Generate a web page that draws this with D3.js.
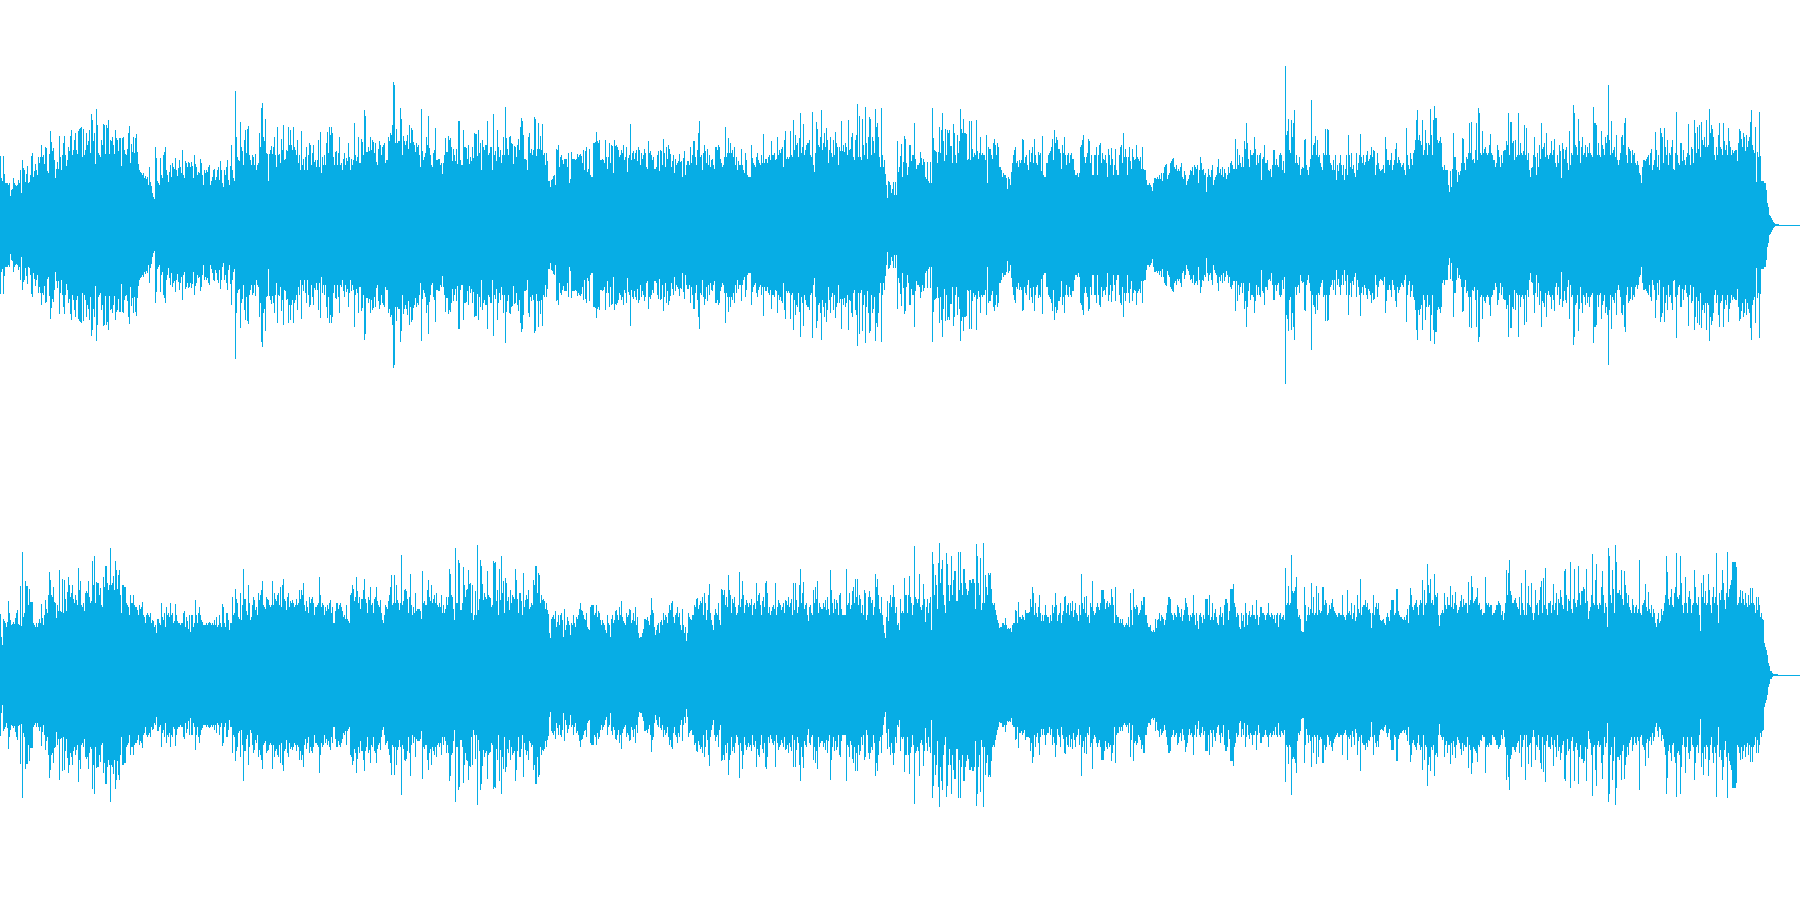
<!DOCTYPE html>
<html><head><meta charset="utf-8">
<script src="https://cdn.jsdelivr.net/npm/d3@7"></script>
<style>html,body{margin:0;padding:0;background:#fff;overflow:hidden}svg{display:block}</style>
</head><body><div id="chart"></div>
<script>
const channelNames = ["left", "right"];
const waveColor = "#07ade5";
const leftLevel = [
69,47,44,69,51,42,42,42,40,42,29,35,36,47,42,40,39,40,45,42,55,32,65,57,55,43,51,59,42,43,50,69,72,48,54,61,55,50,68,62,68,80,68,70,61,78,77,54,52,71,
94,83,74,77,65,47,56,63,56,89,68,55,70,82,89,70,59,65,78,74,89,95,70,75,85,92,75,71,94,96,97,98,68,96,70,75,92,80,84,95,72,111,105,84,92,61,116,100,72,70,
68,85,80,101,100,71,100,97,105,71,85,84,88,80,71,95,87,85,74,87,87,59,87,88,75,71,70,76,92,99,62,81,73,88,72,87,91,73,61,55,53,52,50,52,47,49,46,48,40,58,
43,39,32,28,26,78,67,44,42,40,67,50,47,70,73,78,55,50,43,53,60,48,62,58,56,67,55,49,57,65,58,52,75,50,47,64,62,58,63,62,58,63,59,47,70,61,58,50,53,52,
66,62,50,40,55,52,55,53,58,60,40,44,48,55,56,45,48,55,58,45,64,55,42,38,55,50,58,65,45,40,59,80,55,47,44,134,88,68,65,64,103,78,74,60,85,95,72,96,99,70,
65,60,70,68,60,71,55,60,62,92,78,117,122,88,84,106,72,71,44,71,75,79,71,78,88,70,58,98,70,71,62,86,75,100,65,66,75,74,98,80,95,80,75,98,78,75,70,85,62,70,
55,94,60,66,55,68,78,55,70,82,80,60,72,80,63,65,58,65,85,58,93,52,68,60,70,60,82,93,72,98,90,98,92,68,60,73,74,60,72,88,60,62,55,66,72,60,67,64,82,68,
55,66,60,65,102,70,64,68,88,62,62,86,83,70,115,109,73,73,78,74,88,75,85,83,72,82,63,60,76,84,80,70,78,80,82,62,65,65,88,84,92,90,100,143,140,82,96,82,84,84,
117,106,70,89,84,80,84,90,76,100,82,97,95,83,80,73,82,78,80,70,58,116,74,65,68,72,88,80,109,77,70,60,58,72,75,97,65,65,66,66,60,62,51,62,70,87,73,73,89,85,
87,78,64,76,70,64,76,61,104,104,65,60,60,95,78,78,77,66,80,61,68,64,78,67,92,91,91,69,95,72,82,55,85,78,75,80,80,104,70,72,78,78,55,111,70,74,64,95,78,68,
75,62,70,88,70,118,87,76,70,88,89,82,81,61,79,78,68,80,86,75,98,107,104,90,66,66,65,55,88,92,72,76,70,75,108,106,69,76,102,76,89,75,101,70,72,60,72,64,44,44,
38,45,46,49,50,40,76,75,80,58,68,70,65,61,66,66,66,58,72,42,46,73,66,66,66,65,66,71,68,70,71,69,62,75,55,74,78,53,56,76,50,48,48,82,82,83,93,84,82,85,
65,65,66,65,62,85,68,56,68,82,62,80,79,52,85,79,80,78,75,68,70,75,72,80,65,68,78,53,67,70,101,65,72,74,66,72,75,64,78,75,60,72,66,70,76,72,58,56,84,72,
74,70,65,68,56,56,58,70,74,54,75,74,60,86,72,58,78,66,80,76,71,58,64,70,52,66,60,62,64,71,63,64,48,67,74,50,60,64,64,60,78,62,70,84,84,68,60,75,92,104,
68,70,55,72,80,74,62,76,60,70,58,65,66,60,56,78,78,75,80,78,66,62,58,60,68,98,68,72,87,72,82,72,75,68,78,60,68,55,64,60,60,76,60,55,52,72,65,50,48,48,
48,80,67,62,60,58,68,72,65,62,60,70,62,91,62,66,66,62,68,70,65,84,70,70,72,65,66,88,70,75,72,76,78,58,85,94,66,68,66,68,94,70,68,105,75,90,80,82,68,87,
112,72,78,101,70,75,80,82,82,85,70,68,113,60,53,72,103,96,80,78,88,115,75,82,92,78,97,85,62,75,88,72,68,85,70,93,82,78,60,78,74,104,74,80,73,82,78,70,105,75,
76,88,92,68,65,85,90,121,68,109,68,65,106,80,70,118,82,66,88,108,106,70,88,84,72,116,98,102,88,68,58,117,70,58,65,51,40,27,44,43,40,32,36,43,30,43,30,84,53,58,
69,81,48,63,89,86,62,50,58,80,80,64,70,70,102,66,56,60,60,62,73,67,60,66,63,48,46,63,44,42,63,42,117,87,75,74,73,62,73,98,72,95,112,84,64,96,70,95,92,95,
79,79,62,101,92,70,62,90,72,84,116,96,92,106,92,92,91,65,66,104,65,104,76,68,72,70,105,74,66,72,88,70,72,70,70,65,90,42,78,76,76,70,66,82,86,80,70,82,78,58,
58,55,48,52,50,50,47,36,48,46,40,53,62,70,75,78,62,64,58,65,62,65,86,85,62,68,70,60,55,75,63,72,78,62,86,70,62,60,73,70,72,54,89,50,48,48,62,62,70,72,
74,78,86,65,95,82,88,85,76,76,72,56,80,72,88,70,60,70,72,62,70,72,66,66,55,50,50,52,48,52,78,80,85,90,68,62,68,72,86,84,62,70,50,50,70,70,78,50,70,80,
82,62,72,66,65,70,62,48,76,70,60,77,66,50,60,76,55,50,50,70,78,80,62,92,68,76,68,50,68,78,64,56,76,68,65,66,80,68,66,64,68,56,78,56,55,55,45,40,40,42,
40,38,34,42,47,47,46,48,46,50,46,52,44,52,58,60,61,46,50,52,62,64,66,67,58,56,60,54,56,54,58,62,48,46,54,50,40,44,46,50,55,54,58,50,60,58,56,60,42,55,
68,62,55,56,50,52,33,48,56,50,48,55,60,40,45,48,50,58,66,52,56,50,58,48,56,52,46,50,58,52,62,64,60,56,56,86,56,76,60,70,62,58,68,58,84,76,102,82,66,58,
75,70,70,72,88,76,60,70,62,70,72,45,66,68,80,62,62,65,55,54,56,48,60,75,75,60,66,60,58,70,72,70,55,64,52,159,90,94,106,75,72,105,88,102,115,62,70,62,60,68,
50,56,58,57,85,86,60,55,50,58,66,125,70,80,82,89,70,85,68,70,62,58,55,72,70,96,70,96,95,70,62,60,55,65,55,70,45,60,54,62,70,60,50,60,45,56,70,50,90,70,
58,72,56,60,52,48,72,55,62,70,91,68,62,70,60,63,70,74,64,66,70,78,68,75,74,50,60,72,62,56,54,55,56,60,52,88,76,65,65,60,65,72,55,60,65,76,82,62,68,65,
62,58,60,62,55,50,97,70,60,56,72,66,60,72,75,85,105,115,85,90,84,80,105,70,75,95,82,70,82,80,116,90,70,105,119,107,107,85,82,84,88,82,58,55,60,55,55,55,40,33,
54,38,56,92,68,68,55,43,53,50,54,62,87,86,62,55,68,66,72,102,72,103,65,66,62,75,102,65,117,112,72,70,94,72,76,78,72,70,72,80,91,72,70,65,65,58,62,80,75,68,
58,70,62,74,75,75,84,80,112,70,103,103,82,84,65,85,68,70,112,70,82,72,70,74,100,70,97,65,72,55,48,57,58,70,88,68,50,72,58,80,66,102,76,78,82,68,92,70,66,70,
72,84,70,75,86,62,58,70,62,80,74,47,82,76,66,75,78,62,55,94,60,72,70,120,112,80,78,70,106,84,62,78,88,70,72,80,68,78,72,82,72,70,68,118,102,102,100,70,82,70,
68,94,80,76,70,88,82,90,140,85,70,104,72,75,78,68,90,65,60,65,72,88,90,80,102,107,70,62,78,76,74,62,75,70,72,62,60,64,60,52,50,42,58,65,65,64,66,68,70,60,
72,76,55,60,65,93,75,58,70,55,97,92,88,62,97,78,70,85,60,72,70,78,85,56,55,72,113,70,62,60,82,82,64,75,65,60,68,72,101,70,60,78,76,62,105,92,72,98,76,100,
68,103,85,80,88,78,105,78,80,116,92,100,96,88,70,65,78,70,90,102,78,76,70,102,84,75,80,70,97,84,78,70,75,72,74,75,75,64,82,96,94,86,78,92,88,74,90,78,84,88,
103,115,80,75,72,98,43,73,68,113,69,44,44,44,42,42,35,22,18,10,9,7,5,3,2,1,1,1,1,0,0,0,0,0,0,0,0,0,0,0,0,0,0,0,0,0,0,0,0,0
];
const rightLevel = [
61,38,30,56,54,52,48,53,74,62,55,50,51,53,51,57,62,65,51,50,89,49,123,58,62,94,89,89,70,86,73,73,73,52,50,48,52,48,52,56,52,71,57,50,60,75,66,62,80,103,
95,80,78,88,73,72,57,70,64,105,64,63,96,62,95,76,64,83,98,90,78,82,90,76,72,80,75,70,107,85,94,70,68,72,64,82,84,82,94,78,72,74,114,90,119,72,93,92,92,80,
87,70,68,98,88,109,109,92,85,90,127,90,92,99,85,114,105,86,100,105,80,62,90,90,88,88,72,70,68,60,80,72,72,80,70,68,68,65,60,70,66,68,73,60,58,52,60,62,60,58,
62,52,55,54,48,50,42,56,56,52,50,72,58,55,62,48,68,60,62,58,72,60,62,52,54,71,60,54,52,52,50,52,52,62,64,48,58,54,46,60,43,60,60,48,52,75,60,52,62,68,
60,55,53,50,50,50,52,50,52,53,52,50,52,50,55,50,58,48,50,60,52,48,71,68,52,48,62,62,55,45,52,52,78,60,62,86,76,72,58,56,82,55,70,106,76,76,64,60,90,72,
55,58,70,78,75,65,68,60,82,75,80,85,94,70,68,66,78,76,75,70,68,70,94,70,82,76,74,80,82,70,88,68,90,96,76,74,65,78,82,68,74,72,75,72,68,70,76,70,72,85,
76,85,80,92,70,64,74,68,62,78,72,76,78,72,60,68,68,70,72,98,80,68,72,70,60,68,64,70,66,72,75,62,68,52,52,64,72,72,66,70,72,68,64,58,60,56,70,56,54,52,
80,82,90,86,74,78,98,84,72,78,66,76,76,85,96,76,72,62,78,75,88,70,72,62,76,78,88,74,70,68,75,62,55,52,60,70,68,66,74,80,88,100,70,72,100,72,90,75,72,65,
72,120,70,74,85,86,84,76,62,78,101,70,60,68,62,82,64,66,66,66,64,56,104,72,74,70,70,85,95,78,74,90,72,76,80,72,82,70,68,72,68,80,62,70,62,66,78,70,78,106,
101,80,78,66,55,127,72,72,115,112,65,65,72,108,90,78,85,86,105,91,92,62,90,55,60,84,60,130,65,76,115,109,91,75,82,78,76,104,80,78,77,68,70,114,112,113,74,85,60,106,
75,119,82,94,62,97,92,74,78,65,85,72,80,78,76,106,95,76,62,82,82,74,60,102,68,75,80,76,85,66,68,72,70,95,90,109,109,82,102,100,72,80,75,76,74,66,72,65,61,42,
37,56,58,60,56,64,48,53,60,50,60,62,55,38,66,45,50,58,54,50,40,52,50,60,52,48,58,56,60,66,72,65,64,60,56,55,62,48,46,45,68,70,70,70,60,62,70,58,64,62,
55,50,55,52,50,45,42,60,52,50,38,56,60,52,55,64,65,60,55,68,60,74,58,54,52,50,62,58,60,66,65,52,55,62,54,68,50,58,42,37,38,38,42,46,56,56,55,58,54,50,
60,77,65,62,48,40,45,50,52,42,53,55,50,62,55,60,58,52,62,70,65,72,74,58,52,60,62,68,58,62,50,45,66,50,42,48,34,42,62,58,56,55,60,60,70,68,76,77,66,70,
74,72,78,60,82,72,55,65,80,91,62,55,50,45,60,66,62,60,72,55,50,86,85,80,85,70,78,68,100,85,80,62,76,72,78,68,60,62,70,103,68,76,94,80,62,70,75,72,68,72,
70,76,60,70,72,66,92,74,80,82,70,60,74,78,68,92,94,82,62,68,60,64,68,70,66,92,60,68,75,72,70,65,68,72,62,75,74,70,78,68,72,76,60,92,65,92,75,62,68,90,
106,72,82,93,66,70,72,60,54,68,70,62,60,85,72,88,76,94,62,72,68,66,66,72,68,75,65,78,66,60,105,85,72,62,76,66,75,72,60,80,82,66,60,60,60,60,106,70,72,82,
66,70,84,88,72,96,78,96,70,80,76,62,70,60,85,82,55,60,78,84,78,72,75,60,68,101,88,96,80,66,62,78,60,50,42,37,58,74,54,72,80,68,78,90,78,62,68,50,52,45,
76,62,64,62,97,80,80,62,80,99,78,72,60,70,129,78,76,72,76,101,68,65,70,91,76,53,68,76,62,72,78,45,123,111,80,100,90,66,112,132,92,106,115,80,70,62,122,111,90,74,
90,119,80,95,104,104,74,74,123,85,123,92,80,106,106,92,86,80,84,95,95,92,96,96,92,66,131,119,92,80,117,65,72,132,72,100,88,80,102,100,102,86,72,70,72,65,60,55,52,47,
48,48,52,52,50,57,50,46,47,46,47,43,50,52,52,65,64,52,73,58,58,56,60,58,55,65,62,62,62,63,76,68,88,82,60,72,62,58,68,80,62,54,60,54,60,70,60,58,58,52,
60,54,70,62,68,82,70,54,60,62,72,52,60,64,78,79,62,70,72,60,72,64,74,58,65,72,62,60,54,70,60,101,72,66,78,62,79,58,60,52,72,68,94,64,60,62,68,72,68,65,
72,85,85,85,76,66,72,74,68,72,70,86,78,70,52,88,60,58,58,52,56,52,56,50,48,50,52,50,58,48,82,65,50,86,68,66,70,68,60,62,65,74,70,78,78,60,60,52,48,48,
50,44,43,45,43,56,47,55,56,62,54,60,58,56,50,55,62,70,78,78,76,62,60,55,62,60,58,70,68,62,58,66,54,60,65,77,72,68,60,54,60,58,62,80,60,50,62,54,46,60,
62,58,52,60,56,76,76,76,60,80,55,58,72,55,62,66,58,52,50,60,68,58,62,50,70,76,76,72,55,64,86,86,86,91,72,68,58,62,60,48,46,62,54,60,48,72,62,50,60,64,
58,60,70,60,60,56,75,60,50,58,68,68,62,62,60,55,60,62,72,60,58,62,60,56,60,52,60,62,48,60,62,56,58,60,55,107,70,72,89,70,72,120,84,82,84,88,98,66,58,60,
56,44,43,43,88,70,54,60,68,60,66,92,62,78,60,62,89,60,82,65,62,64,88,88,70,75,72,60,62,70,66,72,76,68,64,62,60,58,62,62,60,60,80,60,58,55,60,85,62,64,
60,72,56,62,70,54,58,80,66,62,96,60,68,70,70,75,68,72,65,66,62,47,62,80,60,68,72,66,72,60,55,54,55,56,52,50,58,62,58,54,65,75,75,75,60,62,86,86,64,60,
58,58,56,55,58,55,60,66,52,70,87,80,68,65,70,72,75,68,60,70,75,72,95,60,85,70,72,111,90,82,96,72,75,70,101,80,78,82,60,49,60,62,65,62,82,70,66,78,70,70,
89,68,80,66,72,83,70,62,65,68,74,80,68,76,70,72,72,62,93,70,75,99,88,72,74,76,78,87,70,72,65,66,60,62,62,98,72,70,72,68,70,70,60,62,62,65,70,70,74,72,
70,60,64,55,62,72,105,80,102,115,84,80,72,72,75,77,72,68,66,78,60,92,72,65,60,105,60,72,89,70,68,92,62,55,62,85,70,72,60,75,88,94,62,97,70,107,66,60,72,72,
74,62,70,91,65,72,82,60,76,72,85,78,70,66,104,106,80,64,76,74,113,66,62,76,106,72,68,75,109,82,70,84,84,88,86,72,106,74,56,64,68,80,121,72,70,95,111,70,66,72,
70,88,104,80,62,72,68,48,127,119,80,72,105,86,62,130,113,82,82,85,80,105,76,70,104,90,82,72,80,68,65,62,76,70,62,68,70,62,66,115,62,60,70,72,75,91,68,64,83,66,
62,70,58,66,62,52,48,56,62,52,54,66,60,64,72,80,119,103,76,70,78,86,70,68,82,88,122,78,76,80,119,92,70,62,72,98,72,62,78,84,76,62,70,72,105,88,72,70,78,60,
44,92,78,100,72,84,70,72,101,85,70,62,78,88,72,78,122,70,52,82,75,85,105,92,75,66,82,123,78,86,90,95,113,113,113,113,108,70,72,78,85,72,84,76,70,82,72,68,80,70,
87,72,87,72,70,62,78,65,78,70,58,62,56,55,32,28,25,20,12,9,4,4,2,1,1,1,1,1,0,0,0,0,0,0,0,0,0,0,0,0,0,0,0,0,0,0,0,0,0,0
];
const channels = [leftLevel, rightLevel];

const width = 1800, height = 900;
const svg = d3.select("#chart").append("svg")
  .attr("width", width).attr("height", height)
  .attr("viewBox", [0, 0, width, height]);
const bandY = d3.scaleBand().domain(channelNames).range([0, height]);

channels.forEach((levels, i) => {
  const x = d3.scaleBand().domain(d3.range(levels.length)).range([0, width]);
  const y = d3.scaleLinear().domain([225, -225])
    .range([bandY(channelNames[i]), bandY(channelNames[i]) + bandY.bandwidth()]);
  svg.append("g").attr("class", channelNames[i])
    .attr("fill", waveColor).attr("shape-rendering", "crispEdges")
    .selectAll("rect").data(levels).join("rect")
    .attr("x", (d, k) => x(k))
    .attr("width", x.bandwidth())
    .attr("y", d => y(d))
    .attr("height", d => Math.max(1, y(-d) - y(d)));
});
</script></body></html>
